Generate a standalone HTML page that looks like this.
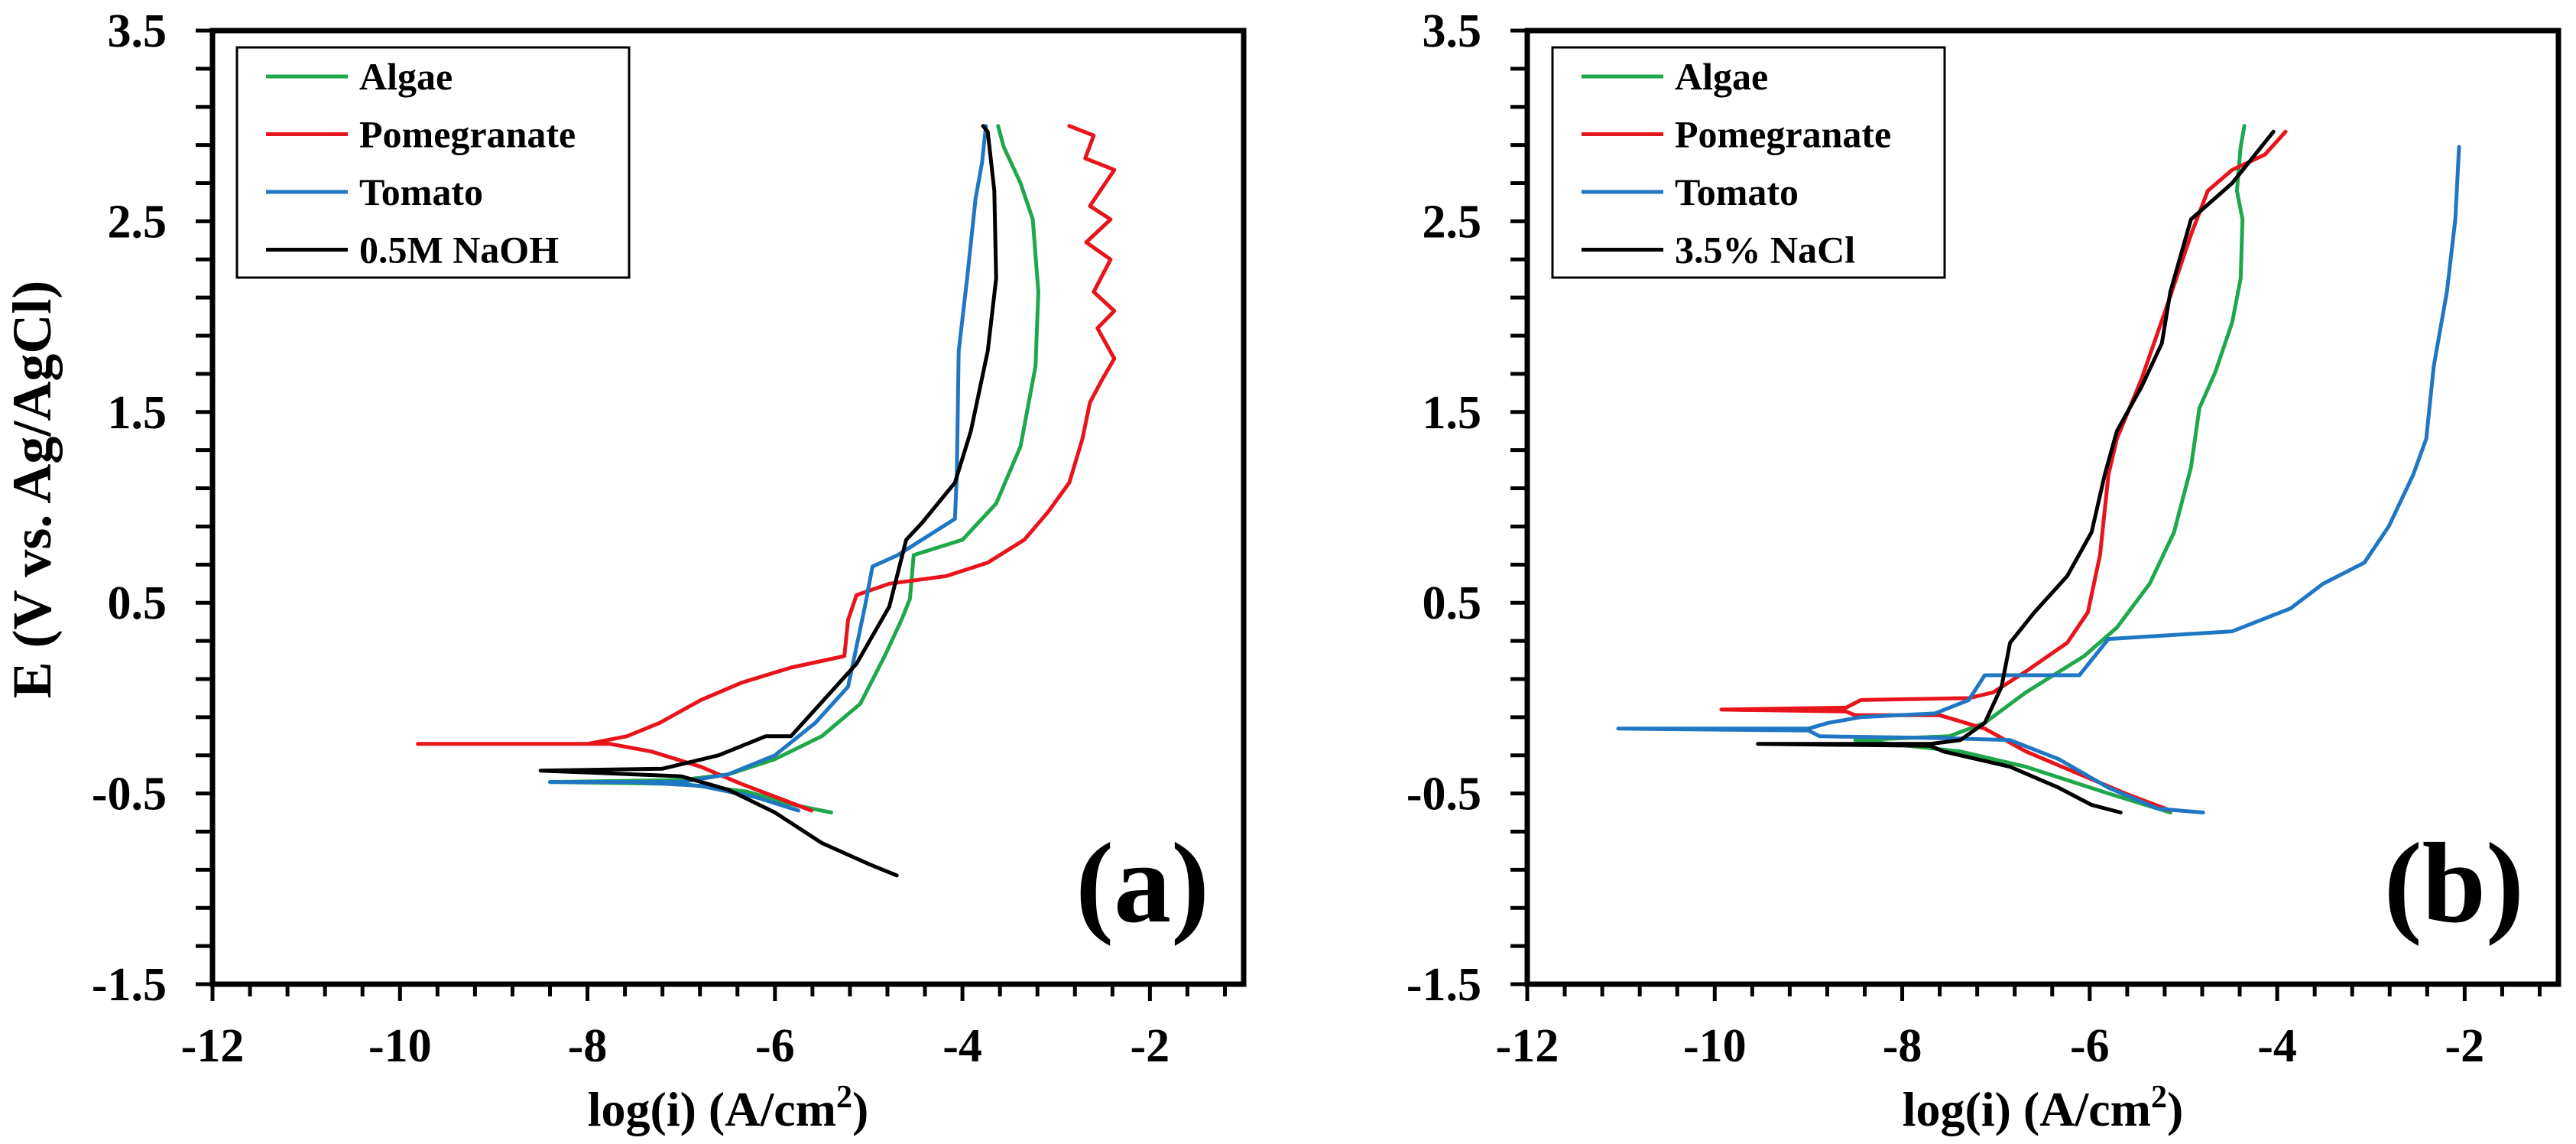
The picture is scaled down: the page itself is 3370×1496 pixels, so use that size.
<!DOCTYPE html>
<html><head><meta charset="utf-8"><style>
html,body{margin:0;padding:0;background:#fff;}
svg{display:block;font-family:"Liberation Serif",serif;font-weight:bold;}
</style></head><body>
<svg id="chart" width="3370" height="1496" viewBox="0 0 3370 1496" xmlns="http://www.w3.org/2000/svg"></svg>
<script>
const xTicks = [-12,-10,-8,-6,-4,-2];
const yTicks = [3.5,2.5,1.5,0.5,-0.5,-1.5];
const seriesNames = ["Algae","Pomegranate","Tomato"];
const colors = {"Algae":"#1fa84a","Pomegranate":"#e8141b","Tomato":"#1f77c4","Blank":"#000000"};

// Panel (a) data [logi, E]
const aAlgaeX = [-5.4,-5.8,-6.3,-7.0,-8.4,-7.0,-6.5,-6.0,-5.5,-5.09,-4.83,-4.65,-4.56,-4.52,-4.0,-3.64,-3.38,-3.22,-3.19,-3.25,-3.38,-3.56,-3.62];
const aAlgaeY = [-0.6,-0.56,-0.49,-0.45,-0.44,-0.43,-0.4,-0.32,-0.2,-0.03,0.22,0.41,0.52,0.75,0.83,1.02,1.32,1.74,2.13,2.51,2.70,2.89,3.0];
const aPomX = [-5.61,-6.36,-6.79,-7.32,-7.76,-9.81,-8.0,-7.58,-7.23,-6.79,-6.36,-5.83,-5.26,-5.22,-5.13,-4.78,-4.17,-3.73,-3.34,-3.08,-2.86,-2.72,-2.64,-2.51,-2.38,-2.56,-2.38,-2.6,-2.42,-2.68,-2.42,-2.64,-2.38,-2.69,-2.6,-2.86];
const aPomY = [-0.59,-0.45,-0.36,-0.28,-0.24,-0.24,-0.24,-0.2,-0.13,-0.01,0.08,0.16,0.22,0.41,0.54,0.6,0.64,0.71,0.83,0.98,1.13,1.36,1.55,1.67,1.78,1.94,2.03,2.13,2.3,2.39,2.51,2.58,2.77,2.83,2.95,3.0];
const aTomX = [-5.75,-6.2,-6.8,-7.5,-8.4,-7.0,-6.5,-6.0,-5.57,-5.22,-5.04,-4.96,-4.69,-4.08,-4.06,-4.04,-3.95,-3.86,-3.79,-3.75];
const aTomY = [-0.59,-0.52,-0.46,-0.44,-0.44,-0.44,-0.4,-0.3,-0.13,0.06,0.48,0.69,0.75,0.94,1.17,1.82,2.2,2.62,2.81,3.0];
const aBlankX = [-4.7,-5.0,-5.5,-6.0,-6.5,-7.0,-8.5,-7.2,-6.6,-6.1,-5.83,-5.48,-5.13,-4.78,-4.6,-4.43,-4.08,-3.91,-3.73,-3.64,-3.66,-3.73,-3.78];
const aBlankY = [-0.93,-0.87,-0.76,-0.6,-0.48,-0.41,-0.38,-0.37,-0.3,-0.2,-0.2,-0.01,0.18,0.48,0.83,0.92,1.13,1.40,1.82,2.2,2.66,2.97,3.0];

// Panel (b) data
const bAlgaeX = [-5.14,-5.8,-6.68,-7.38,-8.5,-7.5,-7.12,-6.68,-6.06,-5.71,-5.36,-5.1,-4.92,-4.83,-4.66,-4.48,-4.39,-4.37,-4.43,-4.39,-4.35];
const bAlgaeY = [-0.6,-0.5,-0.36,-0.28,-0.22,-0.2,-0.13,0.03,0.22,0.37,0.6,0.87,1.21,1.52,1.71,1.97,2.2,2.51,2.66,2.89,3.0];
const bPomX = [-5.14,-5.62,-6.15,-6.68,-7.12,-7.6,-8.5,-8.6,-9.93,-8.6,-8.44,-7.29,-7.03,-6.68,-6.24,-6.02,-5.89,-5.8,-5.71,-5.45,-5.18,-4.92,-4.74,-4.48,-4.13,-3.91];
const bPomY = [-0.59,-0.5,-0.39,-0.28,-0.16,-0.09,-0.09,-0.07,-0.06,-0.05,-0.01,0.0,0.03,0.14,0.29,0.45,0.75,1.17,1.36,1.67,2.05,2.43,2.66,2.77,2.85,2.97];
const bTomX = [-4.79,-5.27,-5.8,-6.33,-6.85,-7.56,-8.88,-9.0,-11.03,-9.0,-8.79,-8.44,-7.65,-7.29,-7.12,-6.11,-5.8,-4.48,-3.86,-3.51,-3.07,-2.81,-2.55,-2.41,-2.33,-2.19,-2.1,-2.06];
const bTomY = [-0.6,-0.58,-0.47,-0.32,-0.22,-0.21,-0.2,-0.17,-0.16,-0.16,-0.13,-0.1,-0.08,-0.01,0.12,0.12,0.31,0.35,0.47,0.6,0.71,0.9,1.17,1.36,1.74,2.13,2.51,2.89];
const bBlankX = [-5.67,-5.98,-6.33,-6.85,-7.56,-7.7,-9.54,-7.7,-7.38,-7.12,-6.94,-6.85,-6.59,-6.24,-5.98,-5.84,-5.71,-5.45,-5.23,-5.14,-4.92,-4.48,-4.04];
const bBlankY = [-0.6,-0.56,-0.47,-0.36,-0.28,-0.25,-0.24,-0.24,-0.22,-0.13,0.06,0.29,0.45,0.64,0.87,1.17,1.4,1.63,1.86,2.13,2.51,2.7,2.97];

const NS = "http://www.w3.org/2000/svg";
const svg = document.getElementById("chart");
function mk(tag, attrs, parent){const e=document.createElementNS(NS,tag);for(const k in attrs)e.setAttribute(k,attrs[k]);(parent||svg).appendChild(e);return e;}

const panels = [
  {id:"a", left:278, blank:"0.5M NaOH", label:"(a)", legX:310,
   data:[[aAlgaeX,aAlgaeY,"Algae"],[aPomX,aPomY,"Pomegranate"],[aTomX,aTomY,"Tomato"],[aBlankX,aBlankY,"Blank"]]},
  {id:"b", left:1998, blank:"3.5% NaCl", label:"(b)", legX:2031,
   data:[[bAlgaeX,bAlgaeY,"Algae"],[bPomX,bPomY,"Pomegranate"],[bTomX,bTomY,"Tomato"],[bBlankX,bBlankY,"Blank"]]}
];
const TOP=40, BOT=1287, XMIN=-12, XMAX=-1, YMIN=-1.5, YMAX=3.5, PW=1349;

panels.forEach(p=>{
  const L=p.left, R=L+PW;
  const sx=v=>L+(v-XMIN)/(XMAX-XMIN)*PW;
  const sy=v=>BOT-(v-YMIN)/(YMAX-YMIN)*(BOT-TOP);
  const g=mk("g",{});
  
  
  for(let v=YMIN; v<=YMAX+1e-6; v+=0.2){
    const t=mk("line",{x1:L-22,x2:L,y1:sy(v),y2:sy(v),stroke:"#000","stroke-width":5},g);
    
    
  }
  for(let v=XMIN; v<=XMAX+1e-6; v+=0.4){
    const major=Math.abs(v-Math.round(v/2)*2)<1e-6;
    const t=mk("line",{x1:sx(v),x2:sx(v),y1:BOT,y2:BOT+(major?22:16),stroke:"#000","stroke-width":5},g);
    
    
  }
  yTicks.forEach(v=>{
    const t=mk("text",{x:L-60,y:sy(v)+21,"text-anchor":"end","font-size":62},g);
    t.textContent=v.toFixed(1);
    
    
  });
  xTicks.forEach(v=>{
    const t=mk("text",{x:sx(v),y:1388,"text-anchor":"middle","font-size":62},g);
    t.textContent=v;
    
    
  });
  const xt=mk("text",{x:L+PW/2,y:1472,"text-anchor":"middle","font-size":64},g);
  xt.innerHTML='log(i) (A/cm<tspan dy="-24" font-size="42">2</tspan><tspan dy="24">)</tspan>';
  
  
  p.data.forEach(([xs,ys,name])=>{
    const d=xs.map((x,i)=>(i?"L":"M")+sx(x).toFixed(1)+","+sy(ys[i]).toFixed(1)).join("");
    const path=mk("path",{d:d,fill:"none",stroke:colors[name],"stroke-width":5,"stroke-linejoin":"round","stroke-linecap":"round"},g);
    
    
  });
  const fr=mk("rect",{x:L,y:TOP,width:PW,height:BOT-TOP,fill:"none",stroke:"#000","stroke-width":7},g);
  
  
  const lg=mk("g",{},g);
  
  
  const box=mk("rect",{x:p.legX,y:62,width:513,height:301,fill:"#fff",stroke:"#000","stroke-width":3},lg);
  
  
  const names=[...seriesNames,"Blank"];
  names.forEach((n,i)=>{
    const y=100+i*75.5;
    const ln=mk("line",{x1:p.legX+38,x2:p.legX+145,y1:y,y2:y,stroke:colors[n],"stroke-width":5},lg);
    
    
    const t=mk("text",{x:p.legX+160,y:y+17,"font-size":50},lg);
    t.textContent=n==="Blank"?p.blank:n;
    
    
  });
  const pl=mk("text",{x:R-45,y:1205,"text-anchor":"end","font-size":150},g);
  pl.textContent=p.label;
  
  
});
const yt=mk("text",{x:0,y:0,"text-anchor":"middle","font-size":72,transform:"translate(66,640) rotate(-90)"});
yt.textContent="E (V vs. Ag/AgCl)";


</script>
</body></html>
